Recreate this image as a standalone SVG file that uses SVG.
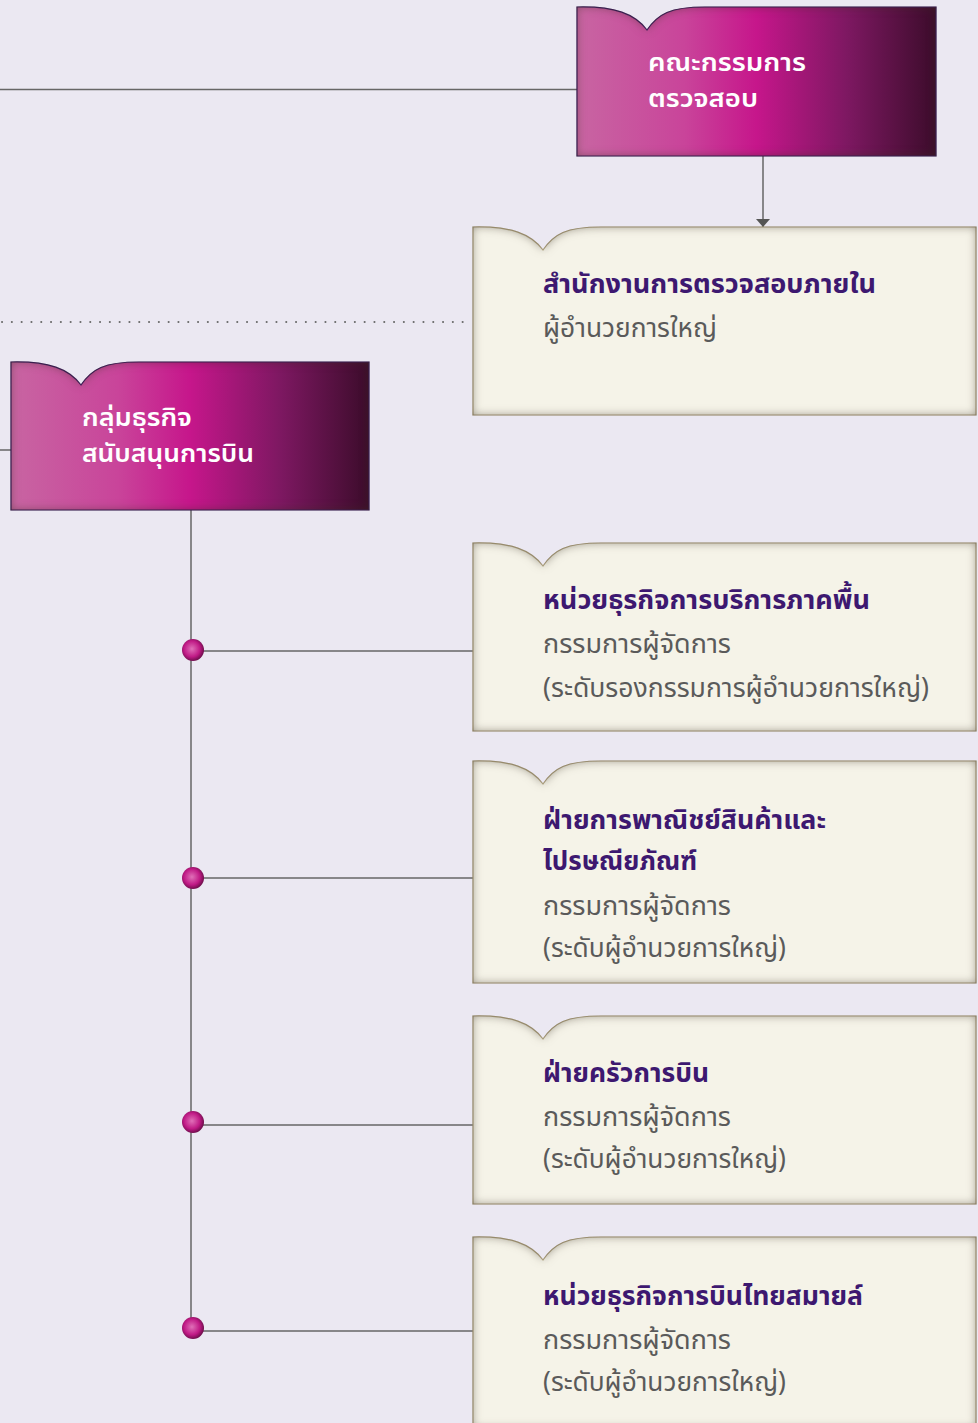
<svg xmlns="http://www.w3.org/2000/svg" width="978" height="1423" viewBox="0 0 978 1423">
<defs>
<style>
.bg{fill:#ebe8f2}
.purple{fill:url(#pg);stroke:#3b1a5c;stroke-width:1.2}
.cream{fill:#f5f3e8;stroke:#b3a683;stroke-width:1.2}
.conn{stroke:#666;stroke-width:1.5;fill:none}
.dotline{stroke:#6a6a6a;stroke-width:2;stroke-dasharray:0.1 9.7;stroke-linecap:round;fill:none}
.wt{font-family:"Noto Sans Thai","Noto Sans Thai Looped","DejaVu Sans",sans-serif;font-size:24px;font-weight:600;fill:#fff}
.tt{font-family:"Noto Sans Thai","Noto Sans Thai Looped","DejaVu Sans",sans-serif;font-size:27px;font-weight:bold;fill:#3d1870}
.st{font-family:"Noto Sans Thai","Noto Sans Thai Looped","DejaVu Sans",sans-serif;font-size:27px;fill:#5a5a5a}
</style>
<linearGradient id="pg" x1="0" y1="0" x2="1" y2="0">
<stop offset="0" stop-color="#c865a2"/>
<stop offset="0.3" stop-color="#c9449a"/>
<stop offset="0.5" stop-color="#c6168b"/>
<stop offset="0.75" stop-color="#7e1862"/>
<stop offset="1" stop-color="#3c0c2b"/>
</linearGradient>
<radialGradient id="dg" cx="0.45" cy="0.45" r="0.6">
<stop offset="0" stop-color="#e070b8"/>
<stop offset="0.6" stop-color="#c01a86"/>
<stop offset="1" stop-color="#5e0a40"/>
</radialGradient>
<filter id="inner" x="-8%" y="-12%" width="116%" height="124%" color-interpolation-filters="sRGB">
<feComponentTransfer in="SourceAlpha" result="inv"><feFuncA type="table" tableValues="1 0"/></feComponentTransfer>
<feGaussianBlur in="inv" stdDeviation="5" result="b"/>
<feFlood flood-color="#3a3020" flood-opacity="0.5"/>
<feComposite in2="b" operator="in"/>
<feComposite in2="SourceAlpha" operator="in" result="sh"/>
<feMerge><feMergeNode in="SourceGraphic"/><feMergeNode in="sh"/></feMerge>
</filter>
<marker id="arr" markerWidth="9" markerHeight="14" refX="8" refY="7" orient="auto" markerUnits="userSpaceOnUse" viewBox="0 0 9 14">
<path d="M0,0 L8,7 L0,14 Z" fill="#555"/>
</marker>
</defs>
<rect class="bg" x="0" y="0" width="978" height="1423"/>

<g id="connectors">
<line class="conn" x1="0" y1="89.5" x2="577" y2="89.5"/>
<line class="dotline" x1="2" y1="322" x2="470" y2="322"/>
<line class="conn" x1="0" y1="450" x2="11" y2="450"/>
<line class="conn" x1="763" y1="156" x2="763" y2="227" marker-end="url(#arr)"/>
<line class="conn" x1="191" y1="510" x2="191" y2="1330"/>
<line class="conn" x1="193" y1="651" x2="473" y2="651"/>
<line class="conn" x1="193" y1="878" x2="473" y2="878"/>
<line class="conn" x1="193" y1="1125" x2="473" y2="1125"/>
<line class="conn" x1="193" y1="1331" x2="473" y2="1331"/>
<circle cx="193" cy="650" r="11" fill="url(#dg)"/>
<circle cx="193" cy="878" r="11" fill="url(#dg)"/>
<circle cx="193" cy="1122" r="11" fill="url(#dg)"/>
<circle cx="193" cy="1328" r="11" fill="url(#dg)"/>
</g>

<g id="audit-committee">
<path class="purple" filter="url(#inner)" d="M577,7 C615,6 635,14 647,30 C658,14 670,7 705,7 L936,7 L936,156 L577,156 Z"/>
<text class="wt" x="648" y="71" textLength="158" lengthAdjust="spacingAndGlyphs">คณะกรรมการ</text>
<text class="wt" x="648" y="107" textLength="110" lengthAdjust="spacingAndGlyphs">ตรวจสอบ</text>
</g>

<g id="internal-audit">
<path class="cream" filter="url(#inner)" d="M473,227 C511,226 531,234 543,250 C554,234 566,227 601,227 L976,227 L976,415 L473,415 Z"/>
<text class="tt" x="543" y="293" textLength="333" lengthAdjust="spacingAndGlyphs">สำนักงานการตรวจสอบภายใน</text>
<text class="st" x="543" y="337" textLength="174" lengthAdjust="spacingAndGlyphs">ผู้อำนวยการใหญ่</text>
</g>

<g id="aviation-support">
<path class="purple" filter="url(#inner)" d="M11,362 C49,361 69,369 81,385 C92,369 104,362 139,362 L369,362 L369,510 L11,510 Z"/>
<text class="wt" x="82" y="426" textLength="110" lengthAdjust="spacingAndGlyphs">กลุ่มธุรกิจ</text>
<text class="wt" x="82" y="462" textLength="172" lengthAdjust="spacingAndGlyphs">สนับสนุนการบิน</text>
</g>

<g id="ground-services">
<path class="cream" filter="url(#inner)" d="M473,543 C511,542 531,550 543,566 C554,550 566,543 601,543 L976,543 L976,731 L473,731 Z"/>
<text class="tt" x="543" y="609" textLength="327" lengthAdjust="spacingAndGlyphs">หน่วยธุรกิจการบริการภาคพื้น</text>
<text class="st" x="543" y="653" textLength="188" lengthAdjust="spacingAndGlyphs">กรรมการผู้จัดการ</text>
<text class="st" x="543" y="697" textLength="386" lengthAdjust="spacingAndGlyphs">(ระดับรองกรรมการผู้อำนวยการใหญ่)</text>
</g>

<g id="cargo-mail">
<path class="cream" filter="url(#inner)" d="M473,761 C511,760 531,768 543,784 C554,768 566,761 601,761 L976,761 L976,983 L473,983 Z"/>
<text class="tt" x="543" y="829" textLength="283" lengthAdjust="spacingAndGlyphs">ฝ่ายการพาณิชย์สินค้าและ</text>
<text class="tt" x="543" y="870" textLength="154" lengthAdjust="spacingAndGlyphs">ไปรษณียภัณฑ์</text>
<text class="st" x="543" y="915" textLength="188" lengthAdjust="spacingAndGlyphs">กรรมการผู้จัดการ</text>
<text class="st" x="543" y="957" textLength="243" lengthAdjust="spacingAndGlyphs">(ระดับผู้อำนวยการใหญ่)</text>
</g>

<g id="catering">
<path class="cream" filter="url(#inner)" d="M473,1016 C511,1015 531,1023 543,1039 C554,1023 566,1016 601,1016 L976,1016 L976,1204 L473,1204 Z"/>
<text class="tt" x="543" y="1082" textLength="166" lengthAdjust="spacingAndGlyphs">ฝ่ายครัวการบิน</text>
<text class="st" x="543" y="1126" textLength="188" lengthAdjust="spacingAndGlyphs">กรรมการผู้จัดการ</text>
<text class="st" x="543" y="1168" textLength="243" lengthAdjust="spacingAndGlyphs">(ระดับผู้อำนวยการใหญ่)</text>
</g>

<g id="thai-smile">
<path class="cream" filter="url(#inner)" d="M473,1237 C511,1236 531,1244 543,1260 C554,1244 566,1237 601,1237 L976,1237 L976,1428 L473,1428 Z"/>
<text class="tt" x="543" y="1305" textLength="320" lengthAdjust="spacingAndGlyphs">หน่วยธุรกิจการบินไทยสมายล์</text>
<text class="st" x="543" y="1349" textLength="188" lengthAdjust="spacingAndGlyphs">กรรมการผู้จัดการ</text>
<text class="st" x="543" y="1391" textLength="243" lengthAdjust="spacingAndGlyphs">(ระดับผู้อำนวยการใหญ่)</text>
</g>
</svg>
